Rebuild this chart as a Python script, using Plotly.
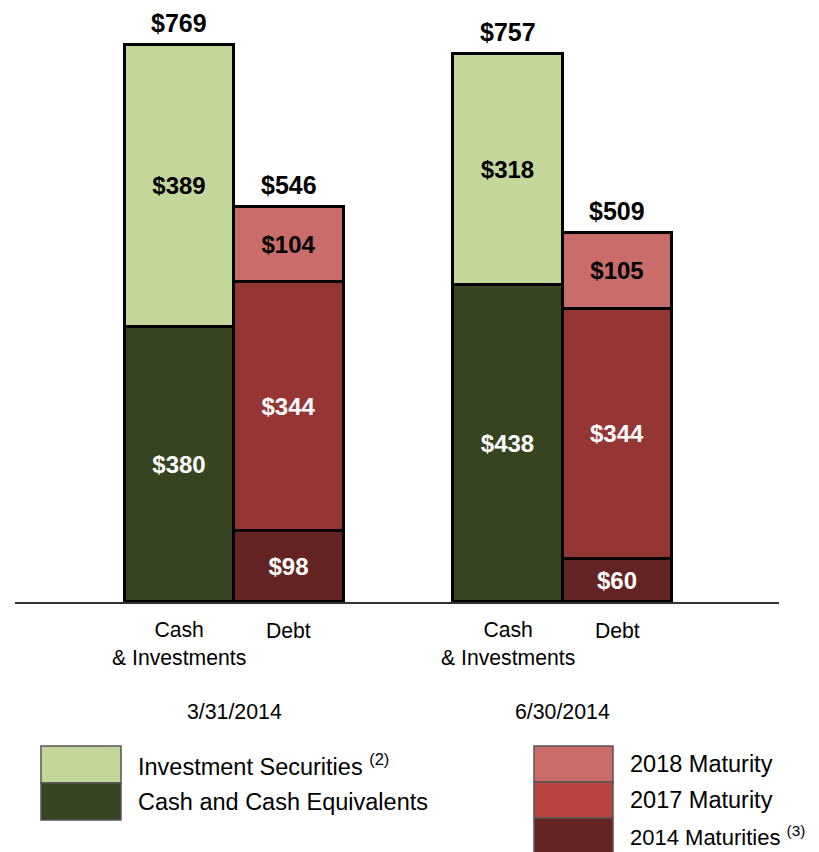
import plotly.graph_objects as go

# ---- data ----
dates = ["3/31/2014", "6/30/2014"]
bar_labels = ["Cash<br>& Investments", "Debt"]
cash_equiv = [380, 438]
invest_sec = [389, 318]
mat_2014 = [98, 60]
mat_2017 = [344, 344]
mat_2018 = [104, 105]
cash_totals = [769, 757]
debt_totals = [546, 509]

cash_x = [1.5, 4.5]
debt_x = [2.5, 5.5]

C_INV = "#C4D79B"
C_CASH = "#374421"
C_2018 = "#C96C6A"
C_2017 = "#963634"
C_2017_LEG = "#B94442"
C_2014 = "#632423"

FONT = "Liberation Sans, Arial, sans-serif"

OFF = 8  # page body margin
W, H = 819, 852
# target page pixel positions of plot area
PL, PR, PT, PB = 15, 779, 10, 602
ML, MR, MT, MB = PL - OFF, W - (PR - OFF), PT - OFF, H - (PB - OFF)
PW, PH = W - ML - MR, H - MT - MB
PX_PER_UNIT = 0.7243
YMAX = PH / PX_PER_UNIT

def py(ypx):
    return (PB - ypx) / PH

def px(xpx):
    return (xpx - PL) / PW

fig = go.Figure()

def add(x, vals, color, tcolor, name):
    fig.add_trace(go.Bar(
        x=x, y=vals, name=name, width=1.0,
        marker=dict(color=color, line=dict(color="black", width=3)),
        text=[f"${v}" for v in vals], textposition="inside", textangle=0,
        insidetextanchor="middle", constraintext="none",
        textfont=dict(family=FONT, size=24, color=tcolor, weight="bold"),
        showlegend=False, hoverinfo="skip"))

add(cash_x, cash_equiv, C_CASH, "white", "Cash and Cash Equivalents")
add(cash_x, invest_sec, C_INV, "black", "Investment Securities")
add(debt_x, mat_2014, C_2014, "white", "2014 Maturities")
add(debt_x, mat_2017, C_2017, "white", "2017 Maturity")
add(debt_x, mat_2018, C_2018, "black", "2018 Maturity")

annotations = []
for xs, tots in ((cash_x, cash_totals), (debt_x, debt_totals)):
    for x, t in zip(xs, tots):
        annotations.append(dict(x=x, y=t, xref="x", yref="y", text=f"<b>${t}</b>",
                                showarrow=False, yanchor="bottom", yshift=6,
                                font=dict(family=FONT, size=25, color="black")))

for i in range(2):
    annotations.append(dict(x=cash_x[i], y=py(643), xref="x", yref="paper",
                            text=bar_labels[0], showarrow=False, yanchor="middle",
                            font=dict(family=FONT, size=21.2, color="black")))
    annotations.append(dict(x=debt_x[i], y=py(630), xref="x", yref="paper",
                            text=bar_labels[1], showarrow=False, yanchor="middle",
                            font=dict(family=FONT, size=21.2, color="black")))
    annotations.append(dict(x=(cash_x[i] + debt_x[i]) / 2, y=py(712), xref="x", yref="paper",
                            text=dates[i], showarrow=False, yanchor="middle",
                            font=dict(family=FONT, size=21.3, color="black")))

shapes = []
legend_left = [("Investment Securities <sup>(2)</sup>", C_INV, 746, 783, 23.5),
               ("Cash and Cash Equivalents", C_CASH, 783, 820, 23.5)]
legend_right = [("2018 Maturity", C_2018, 746, 782, 23.5),
                ("2017 Maturity", C_2017_LEG, 782, 818, 23.5),
                ("2014 Maturities <sup>(3)</sup>", C_2014, 818, 854, 22)]
for items, x0, x1, tx in ((legend_left, 41, 121, 136), (legend_right, 534, 613, 628)):
    for label, col, y0, y1, fs in items:
        shapes.append(dict(type="rect", xref="paper", yref="paper",
                           x0=px(x0), x1=px(x1), y0=py(y1), y1=py(y0),
                           fillcolor=col, line=dict(color="#555555", width=1.5)))
        annotations.append(dict(x=px(tx), y=py((y0 + y1) / 2), xref="paper", yref="paper",
                                text=label, showarrow=False, xanchor="left", yanchor="middle",
                                font=dict(family=FONT, size=fs, color="black")))

fig.update_layout(
    width=W, height=H, margin=dict(l=ML, r=MR, t=MT, b=MB),
    barmode="stack", bargap=0,
    plot_bgcolor="white", paper_bgcolor="white",
    xaxis=dict(range=[0.0, PW / 109.5], showgrid=False, zeroline=False,
               showticklabels=False, ticks="", showline=True,
               linecolor="#333333", linewidth=1.5, fixedrange=True),
    yaxis=dict(range=[0, YMAX], visible=False, fixedrange=True),
    annotations=annotations, shapes=shapes,
    uniformtext=dict(mode=False),
)

fig.write_html("out.html")
